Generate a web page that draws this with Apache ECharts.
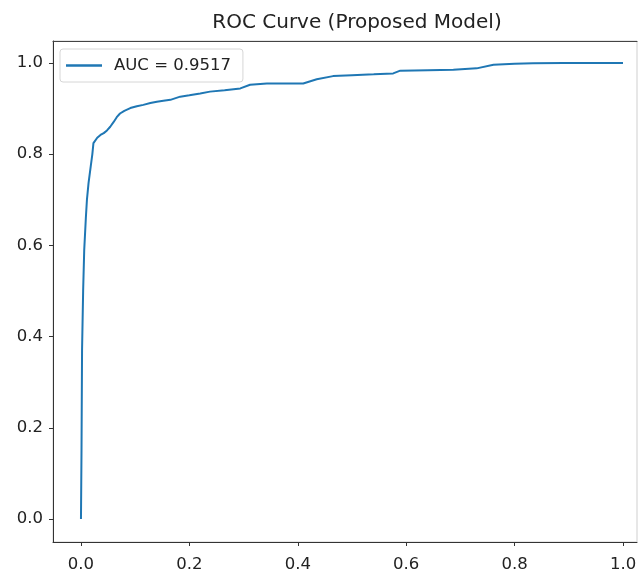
<!DOCTYPE html>
<html>
<head>
<meta charset="utf-8">
<script src="https://cdn.jsdelivr.net/npm/echarts@6/dist/echarts.min.js"></script>
<style>
html,body{margin:0;padding:0;background:#fff;}
#chart{width:642px;height:579px;}
</style>
</head>
<body>
<div id="chart"></div>
<script>
const titleText = "ROC Curve (Proposed Model)";
const legendLabel = "AUC = 0.9517";
const xTicks = [0.0, 0.2, 0.4, 0.6, 0.8, 1.0];
const yTicks = [0.0, 0.2, 0.4, 0.6, 0.8, 1.0];
const fpr = [0, 0.001, 0.002, 0.004, 0.006, 0.009, 0.011, 0.014, 0.018, 0.021, 0.023, 0.030, 0.036, 0.042, 0.048, 0.054, 0.060, 0.066, 0.072, 0.080, 0.091, 0.103, 0.115, 0.128, 0.140, 0.152, 0.165, 0.183, 0.200, 0.220, 0.238, 0.265, 0.294, 0.312, 0.343, 0.375, 0.410, 0.435, 0.465, 0.500, 0.540, 0.576, 0.589, 0.640, 0.687, 0.730, 0.761, 0.800, 0.834, 0.890, 0.950, 1.000];
const tpr = [0, 0.15, 0.37, 0.50, 0.59, 0.66, 0.70, 0.737, 0.773, 0.80, 0.824, 0.836, 0.842, 0.846, 0.852, 0.860, 0.870, 0.881, 0.889, 0.895, 0.901, 0.905, 0.908, 0.912, 0.915, 0.917, 0.919, 0.926, 0.929, 0.933, 0.937, 0.940, 0.944, 0.952, 0.955, 0.955, 0.955, 0.964, 0.971, 0.973, 0.975, 0.977, 0.983, 0.984, 0.985, 0.988, 0.996, 0.998, 0.999, 1.0, 1.0, 1.0];

const points = fpr.map((x, i) => [x, tpr[i]]);
const fmt = v => v.toFixed(1);
const font = "DejaVu Sans";

const chart = echarts.init(document.getElementById('chart'), null, {renderer: 'canvas'});
chart.setOption({
  animation: false,
  backgroundColor: '#fff',
  title: {
    text: titleText,
    left: 352, top: 8, textAlign: 'center',
    textStyle: {fontFamily: font, fontSize: 20, fontWeight: 'normal', color: '#222'}
  },
  legend: {
    data: [legendLabel],
    left: 60, top: 49,
    orient: 'vertical',
    padding: [8, 12, 8, 6],
    itemWidth: 36, itemHeight: 2.5,
    icon: 'rect',
    borderColor: '#d6d6d6', borderWidth: 1, borderRadius: 3,
    backgroundColor: 'rgba(255,255,255,0.85)',
    textStyle: {fontFamily: font, fontSize: 16.5, color: '#222', padding: [0, 0, 0, 7]}
  },
  grid: {
    left: 53, top: 41, right: 5, bottom: 37,
    show: true, borderColor: '#cfcfcf', borderWidth: 1
  },
  xAxis: [{
    type: 'value', min: -0.0516, max: 1.0258,
    splitLine: {show: false},
    axisLine: {show: true, onZero: false, lineStyle: {color: '#333', width: 1}},
    axisTick: {show: true, customValues: xTicks, length: 4, lineStyle: {color: '#333'}},
    axisLabel: {customValues: xTicks, formatter: fmt, margin: 14, fontFamily: font, fontSize: 16.5, color: '#222'}
  }, {
    type: 'value', position: 'top', min: -0.0516, max: 1.0258,
    splitLine: {show: false},
    axisLine: {show: true, onZero: false, lineStyle: {color: '#444', width: 1}},
    axisTick: {show: false}, axisLabel: {show: false}
  }],
  yAxis: {
    type: 'value', min: -0.0504, max: 1.048,
    splitLine: {show: false},
    axisLine: {show: true, onZero: false, lineStyle: {color: '#333', width: 1}},
    axisTick: {show: true, customValues: yTicks, length: 4, lineStyle: {color: '#333'}},
    axisLabel: {customValues: yTicks, formatter: fmt, margin: 10, fontFamily: font, fontSize: 16.5, color: '#222'}
  },
  series: [{
    name: legendLabel,
    type: 'line',
    data: points,
    showSymbol: false, symbol: 'none',
    lineStyle: {color: '#1f77b4', width: 2},
    itemStyle: {color: '#1f77b4'}
  }]
});
</script>
</body>
</html>
